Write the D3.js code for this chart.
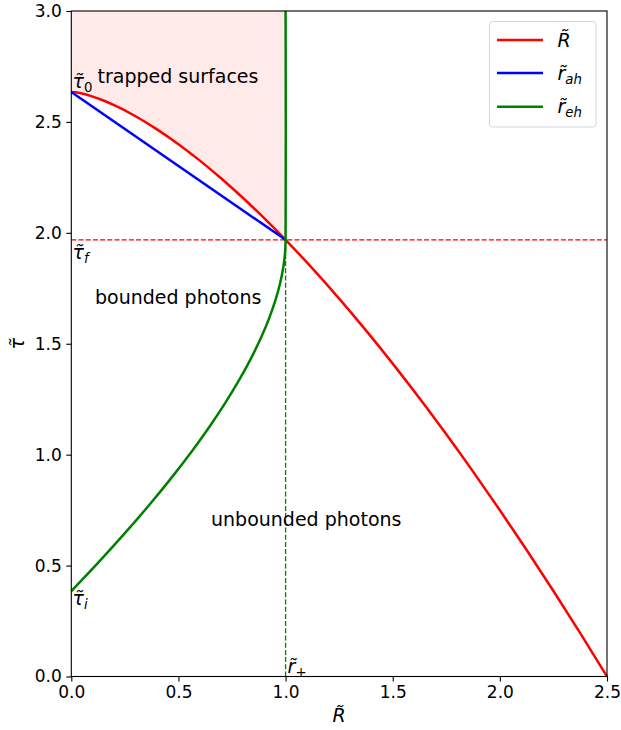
<!DOCTYPE html>
<html><head><meta charset="utf-8">
<script src="https://d3js.org/d3.v7.min.js"></script>
<style>
body{margin:0;background:#fff;}
text{font-family:"DejaVu Sans",sans-serif;}
</style></head>
<body><svg id="c" width="621" height="730"></svg>
<script>
// ---- data ----
const xTicks = [0.0, 0.5, 1.0, 1.5, 2.0, 2.5];
const yTicks = [0.0, 0.5, 1.0, 1.5, 2.0, 2.5, 3.0];
// surface radius R̃ vs tau
const R_x   = [0, 0.02, 0.05, 0.1, 0.15, 0.2, 0.3, 0.4, 0.5, 0.6, 0.7, 0.8, 0.9, 1.0, 1.125, 1.25, 1.375, 1.5, 1.625, 1.75, 1.875, 2.0, 2.125, 2.25, 2.375, 2.5];
const R_tau = [2.6352, 2.6333, 2.6277, 2.6141, 2.5965, 2.5756, 2.5257, 2.4665, 2.3995, 2.3254, 2.2448, 2.1582, 2.0660, 1.9685, 1.8397, 1.7035, 1.5603, 1.4105, 1.2542, 1.0919, 0.9236, 0.7496, 0.5701, 0.3852, 0.1952, 0.0];
// apparent horizon
const ah_x   = [0, 1.0];
const ah_tau = [2.6352, 1.9685];
// event horizon
const eh_x   = [0, 0.1278, 0.2532, 0.3675, 0.4708, 0.5637, 0.6464, 0.7193, 0.7829, 0.8375, 0.8835, 0.9213, 0.9512, 0.9737, 0.9890, 0.9977, 1.0, 1.0];
const eh_tau = [0.3852, 0.5156, 0.6494, 0.7775, 0.8999, 1.0169, 1.1284, 1.2348, 1.3359, 1.4321, 1.5235, 1.6101, 1.6920, 1.7695, 1.8426, 1.9115, 1.9685, 3.0];
const tau0 = 2.6352, tauF = 1.9685, tauI = 0.3852, rPlus = 1.0;
const seriesNames = ["R", "ah", "eh"];

// ---- drawing ----
const svg = d3.select("#c");
const L = 71.3, Rr = 607, T = 11, B = 676.5;
const x = d3.scaleLinear().domain([0, 2.5]).range([L, Rr]);
const y = d3.scaleLinear().domain([0, 3.0]).range([B, T]);

const pts = (xs, ys) => xs.map((v, i) => [v, ys[i]]);
const Rpts = pts(R_x, R_tau), AHpts = pts(ah_x, ah_tau), EHpts = pts(eh_x, eh_tau);

// shaded trapped region (above R̃ for R̃ <= r+)
const fillPts = Rpts.filter(d => d[0] <= rPlus);
svg.append("path")
  .attr("d", d3.area().x(d => x(d[0])).y0(d => y(d[1])).y1(y(3.0)).curve(d3.curveMonotoneX)(fillPts))
  .attr("fill", "#ffeaea");

// dashed guides
svg.append("line").attr("x1", x(0)).attr("x2", x(2.5)).attr("y1", y(tauF)).attr("y2", y(tauF))
  .attr("stroke", "#ff0000").attr("stroke-width", 1.3).attr("stroke-dasharray", "5,2.2");
svg.append("line").attr("x1", x(rPlus)).attr("x2", x(rPlus)).attr("y1", y(0)).attr("y2", y(tauF))
  .attr("stroke", "#008000").attr("stroke-width", 1.3).attr("stroke-dasharray", "5,2.2");

svg.append("path").attr("d", d3.line().x(d => x(d[0])).y(d => y(d[1])).curve(d3.curveMonotoneX)(Rpts)).attr("fill", "none").attr("stroke", "#ff0000").attr("stroke-width", 2.5);
svg.append("path").attr("d", d3.line().x(d => x(d[0])).y(d => y(d[1]))(AHpts)).attr("fill", "none").attr("stroke", "#0000ff").attr("stroke-width", 2.5);
svg.append("path").attr("d", d3.line().x(d => x(d[0])).y(d => y(d[1])).curve(d3.curveCatmullRom.alpha(0.5))(EHpts)).attr("fill", "none").attr("stroke", "#008000").attr("stroke-width", 2.5);

// axes
const gx = svg.append("g").attr("transform", `translate(0,${B})`)
  .call(d3.axisBottom(x).tickValues(xTicks).tickFormat(d3.format(".1f")).tickSize(5).tickPadding(4.5));
const gy = svg.append("g").attr("transform", `translate(${L},0)`)
  .call(d3.axisLeft(y).tickValues(yTicks).tickFormat(d3.format(".1f")).tickSize(5).tickPadding(4.5));
[gx, gy].forEach(g => {
  g.select(".domain").remove();
  g.selectAll(".tick line").attr("stroke", "#000").attr("stroke-width", 1.1);
  g.selectAll(".tick text").attr("font-size", 17).attr("fill", "#000").style("font-family", "DejaVu Sans");
});
// frame
svg.append("rect").attr("x", L).attr("y", T).attr("width", Rr - L).attr("height", B - T)
  .attr("fill", "none").attr("stroke", "#000").attr("stroke-width", 1.1);

// math-label helper: italic letter with tilde + subscript
function mathLabel(g, x0, y0, letter, sub, size, subItalic) {
  const t = g.append("text").attr("x", x0).attr("y", y0).attr("font-size", size).attr("fill", "#000");
  t.append("tspan").attr("font-style", "italic").text(letter + "\u0303");
  if (sub) t.append("tspan").attr("font-size", size * 0.7).attr("dy", size * 0.22)
    .attr("font-style", subItalic ? "italic" : "normal").text(sub);
  return t;
}

// axis labels
mathLabel(svg, 339, 722, "R", null, 19).attr("text-anchor", "middle");
const yl = svg.append("g").attr("transform", "translate(24,343.7) rotate(-90)");
mathLabel(yl, 0, 0, "τ", null, 19).attr("text-anchor", "middle");

// annotations
mathLabel(svg, 72.5, 87.5, "τ", "0", 19, false);
mathLabel(svg, 72.5, 259, "τ", "f", 19, true);
mathLabel(svg, 72.5, 605, "τ", "i", 19, true);
mathLabel(svg, x(rPlus) + 2, 672.5, "r", "+", 19, false);
svg.append("text").attr("x", 97.5).attr("y", 83).attr("font-size", 19).text("trapped surfaces");
svg.append("text").attr("x", 95).attr("y", 304).attr("font-size", 19).text("bounded photons");
svg.append("text").attr("x", 211).attr("y", 526).attr("font-size", 19).text("unbounded photons");

// legend
const lg = svg.append("g");
lg.append("rect").attr("x", 489.5).attr("y", 21.5).attr("width", 106.5).attr("height", 105.5).attr("rx", 3)
  .attr("fill", "#fff").attr("fill-opacity", 0.8).attr("stroke", "#d6d6d6").attr("stroke-width", 1);
const legItems = [
  {name: seriesNames[0], color: "#ff0000", letter: "R", sub: null, yy: 40},
  {name: seriesNames[1], color: "#0000ff", letter: "r", sub: "ah", yy: 73},
  {name: seriesNames[2], color: "#008000", letter: "r", sub: "eh", yy: 106.7}
];
legItems.forEach(it => {
  lg.append("line").attr("x1", 497).attr("x2", 543).attr("y1", it.yy).attr("y2", it.yy)
    .attr("stroke", it.color).attr("stroke-width", 2.5);
  mathLabel(lg, 557.5, it.yy + 6.5, it.letter, it.sub, 19, true);
});
</script></body></html>
